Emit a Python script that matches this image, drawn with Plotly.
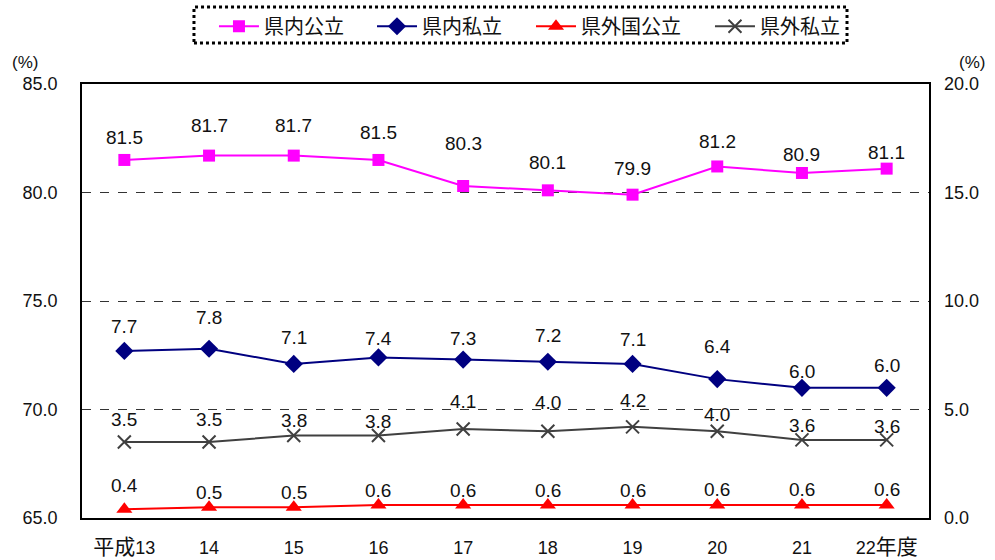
import re
import plotly.graph_objects as go

categories = ["平成13", "14", "15", "16", "17", "18", "19", "20", "21", "22年度"]
kennai_kouritsu = [81.5, 81.7, 81.7, 81.5, 80.3, 80.1, 79.9, 81.2, 80.9, 81.1]
kennai_shiritsu = [7.7, 7.8, 7.1, 7.4, 7.3, 7.2, 7.1, 6.4, 6.0, 6.0]
kengai_kokkouritsu = [0.4, 0.5, 0.5, 0.6, 0.6, 0.6, 0.6, 0.6, 0.6, 0.6]
kengai_shiritsu = [3.5, 3.5, 3.8, 3.8, 4.1, 4.0, 4.2, 4.0, 3.6, 3.6]

left_ticks = [65, 70, 75, 80, 85]
right_ticks = [0, 5, 10, 15, 20]

# label offsets (px above marker) - styling only
shift_kk = [22, 30, 30, 27, 42, 28, 26, 25, 18, 16]
shift_ks = [24, 31, 26, 19, 21, 26, 24, 33, 16, 22]
shift_gk = [24, 15, 15, 14, 14, 14, 14, 15, 15, 15]
shift_gs = [23, 23, 15, 14, 28, 29, 26, 17, 14, 13]

FONT = "Arial, 'Liberation Sans', 'Noto Sans CJK JP', sans-serif"
CJK = "'Noto Sans CJK JP', Arial, sans-serif"

# larger glyphs for the CJK part of the category labels
tick_text = [re.sub(r"([^0-9]+)", r"<span style='font-size:21px'>\1</span>", c) for c in categories]

legend_x = [0.1558, 0.3424, 0.5301, 0.7414]
legend_ids = ["legend", "legend2", "legend3", "legend4"]

fig = go.Figure()
series = [
    ("県内公立", kennai_kouritsu, "#FF00FF", "square", 12, "y", shift_kk),
    ("県内私立", kennai_shiritsu, "#000080", "diamond", 14, "y2", shift_ks),
    ("県外国公立", kengai_kokkouritsu, "#FF0000", "triangle-up", 14, "y2", shift_gk),
    ("県外私立", kengai_shiritsu, "#404040", "x-thin-open", 13, "y2", shift_gs),
]
for k, (name, vals, color, sym, size, yax, shifts) in enumerate(series):
    marker = dict(symbol=sym, size=size, color=color, line=dict(color=color, width=2 if "x" in sym else 0))
    fig.add_trace(go.Scatter(
        x=list(range(len(categories))), y=vals, name=name, mode="lines+markers",
        line=dict(color=color, width=2), marker=marker, yaxis=yax,
        cliponaxis=False, legend=legend_ids[k],
    ))
    for i, (v, s) in enumerate(zip(vals, shifts)):
        fig.add_annotation(x=i, y=v, xref="x", yref=yax, text=f"{v:.1f}", showarrow=False,
                           yshift=s, font=dict(family=FONT, size=19, color="#111111"))

for xp in (-0.067, 1.051):
    fig.add_annotation(x=xp, y=1.05, xref="paper", yref="paper", text="(%)", showarrow=False,
                       xanchor="center", yanchor="middle",
                       font=dict(family=FONT, size=17, color="#111111"))

fig.add_shape(type="rect", xref="paper", yref="paper", x0=0.1322, x1=0.9032, y0=1.0945, y1=1.1774,
              line=dict(color="black", width=3, dash="dot"), fillcolor="rgba(0,0,0,0)")

legend_common = dict(orientation="h", xanchor="left", y=1.178, yanchor="top",
                     font=dict(family=CJK, size=20, color="#111111"),
                     bgcolor="rgba(0,0,0,0)", itemwidth=40)

fig.update_layout(
    width=995, height=560,
    margin=dict(l=82, r=66, t=84, b=42, autoexpand=False),
    paper_bgcolor="white", plot_bgcolor="white",
    font=dict(family=FONT, size=18, color="#111111"),
    showlegend=True,
    xaxis=dict(range=[-0.5, 9.5], tickvals=list(range(len(categories))), ticktext=tick_text,
               showline=True, linecolor="black", linewidth=1.5,
               mirror=True, showgrid=False, zeroline=False, ticks="", ticklabelstandoff=13,
               tickfont=dict(family=FONT, size=18, color="#111111")),
    yaxis=dict(range=[65, 85], tickvals=left_ticks, tickformat=".1f", showline=True, linecolor="black",
               linewidth=1.5, mirror=True, showgrid=True, gridcolor="#333333", griddash="dash",
               gridwidth=1, zeroline=False, ticks="", ticklabelstandoff=19,
               tickfont=dict(family=FONT, size=18, color="#111111")),
    yaxis2=dict(range=[0, 20], tickvals=right_ticks, tickformat=".1f", overlaying="y", side="right",
                showgrid=False, zeroline=False, showline=False, ticks="", ticklabelstandoff=14,
                tickfont=dict(family=FONT, size=18, color="#111111")),
)
for lid, lx in zip(legend_ids, legend_x):
    fig.update_layout({lid: dict(legend_common, x=lx)})

fig.write_html("out.html", config={"displayModeBar": False})

with open("out.html", encoding="utf-8") as f:
    html = f.read()
html = html.replace("<head>", "<head><style>html,body{margin:0;padding:0;}</style>", 1)
with open("out.html", "w", encoding="utf-8") as f:
    f.write(html)
